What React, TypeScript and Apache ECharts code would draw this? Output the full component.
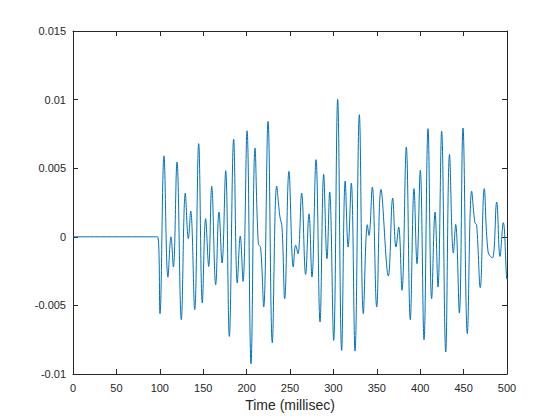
import React, { useEffect, useRef } from "react";
import * as echarts from "echarts";

const xTicks = { min: 0, max: 500, interval: 50 };
const yTicks = { min: -0.01, max: 0.015, interval: 0.005 };
const xLabel = "Time (millisec)";

// extrema of the waveform (ms, value)
const times = [
  0, 90, 97.5, 100.2, 104.8, 109.4, 112.9, 115.6, 119.8, 124.8, 129.4, 132.9, 135.6,
  140.2, 144.8, 149.0, 152.8, 156.3, 159.8, 164.4, 168.2, 171.7, 175.9, 180.1, 185.1,
  189.3, 192.7, 195.9, 200.5, 205.1, 209.7, 213.5, 216.2, 219.7, 224.7, 229.6, 234.7,
  238.3, 240.8, 243.9, 248.8, 253.8, 256.5, 259.2, 263.4, 268.0, 271.9, 275.3, 279.95,
  284.6, 288.8, 292.6, 295.7, 300.3, 304.9, 309.5, 313.6, 317.0, 320.6, 324.9, 329.9,
  334.5, 339.1, 341.0, 344.8, 349.9, 354.8, 363.3, 368.3, 372.1, 375.2, 379.0, 384.0,
  388.6, 392.9, 396.3, 400.1, 404.4, 409.0, 413.2, 417.1, 420.5, 424.7, 429.4, 433.8,
  438.2, 440.9, 445.1, 449.3, 454.3, 459.3, 463.1, 465.0, 469.2, 473.8, 478.2, 483.1,
  488.1, 491.9, 495.7, 499.6, 500,
];
const values = [
  0, 0, 0, -0.0056, 0.0059, -0.00294, 0.0, -0.0022, 0.00545, -0.00604, 0.00319, -0.00014, 0.00188,
  -0.00531, 0.00679, -0.00483, 0.00132, -0.00216, 0.00368, -0.00349, 0.0018, -0.00191, 0.00482, -0.00726, 0.00712,
  -0.00337, 0.00005, -0.00325, 0.00773, -0.00925, 0.00647, -0.0005, -0.0008, -0.00512, 0.00841, -0.00772, 0.0037,
  0.0015, 0.0007, -0.00451, 0.00477, -0.0022, -0.00062, -0.00123, 0.00319, -0.00274, 0.00168, -0.00293, 0.00562,
  -0.00621, 0.00455, -0.0016, 0.00326, -0.00755, 0.01002, -0.00828, 0.00406, -0.00075, 0.00392, -0.00833, 0.0089,
  -0.0056, 0.00088, 0.0001, 0.00363, -0.00512, 0.00346, -0.00286, 0.00282, -0.00075, 0.00071, -0.0039, 0.00654,
  -0.00604, 0.00351, -0.00196, 0.00484, -0.0075, 0.00788, -0.00451, 0.0018, -0.00366, 0.00771, -0.0084, 0.00601,
  -0.00118, 0.0009, -0.00556, 0.00793, -0.00706, 0.00333, 0.001, 0.0009, -0.00371, 0.00351, -0.0011, -0.00155,
  0.00253, -0.00143, 0.00103, -0.00305, -0.0031,
];

const AX = "#262626";
const FONT = "'Liberation Sans', Arial, Helvetica, sans-serif";

export default function App() {
  const ref = useRef<HTMLDivElement>(null);
  useEffect(() => {
    if (!ref.current) return;
    const chart = echarts.init(ref.current, null, { renderer: "svg" });
    const data = times.map((t, i) => [t, values[i]]);
    const axisCommon = {
      type: "value" as const,
      axisLine: { show: true, onZero: false, lineStyle: { color: AX, width: 1 } },
      axisTick: { show: true, inside: true, length: 5, lineStyle: { color: AX } },
      splitLine: { show: false },
    };
    chart.setOption({
      animation: false,
      backgroundColor: "#ffffff",
      grid: { left: 73, right: 53, top: 31, bottom: 46, containLabel: false },
      xAxis: [
        {
          ...axisCommon,
          position: "bottom",
          ...xTicks,
          axisLabel: { color: AX, fontSize: 11, fontFamily: FONT, margin: 8 },
          name: xLabel,
          nameLocation: "middle",
          nameGap: 24,
          nameTextStyle: { color: AX, fontSize: 14, fontFamily: FONT },
        },
        {
          ...axisCommon,
          position: "top",
          ...xTicks,
          axisLabel: { show: false },
        },
      ],
      yAxis: [
        {
          ...axisCommon,
          position: "left",
          ...yTicks,
          axisLabel: {
            color: AX,
            fontSize: 11,
            fontFamily: FONT,
            margin: 7,
            formatter: (v: number) => String(+v.toFixed(4)),
          },
        },
        {
          ...axisCommon,
          position: "right",
          ...yTicks,
          axisLabel: { show: false },
        },
      ],
      series: [
        {
          type: "line",
          xAxisIndex: 0,
          yAxisIndex: 0,
          data,
          showSymbol: false,
          smooth: 0.4,
          lineStyle: { color: "#0072BD", width: 1 },
          clip: true,
        },
      ],
    });
    return () => chart.dispose();
  }, []);
  return (
    <div
      ref={ref}
      style={{ position: "absolute", left: 0, top: 0, width: 560, height: 420, background: "#fff" }}
    />
  );
}
